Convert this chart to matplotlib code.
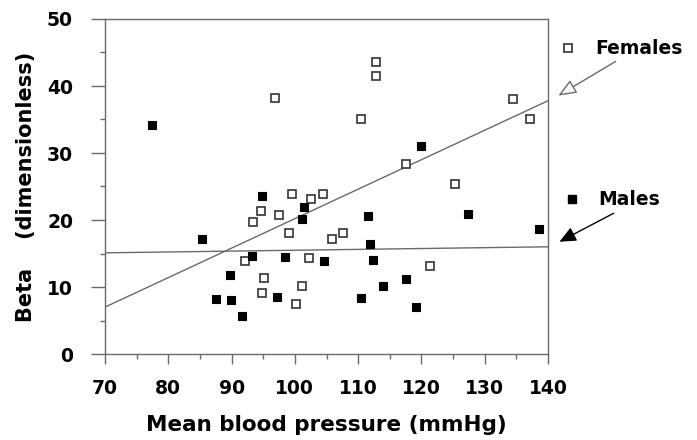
import matplotlib
matplotlib.use("Agg")
import matplotlib.pyplot as plt
from matplotlib.ticker import MultipleLocator
from matplotlib.patches import FancyArrowPatch
from matplotlib.lines import Line2D

# ---- data ----
female_bp = [96.9, 112.8, 112.8, 110.4, 134.5, 137.1, 117.6, 125.3, 99.5, 104.5,
             102.6, 94.6, 97.5, 93.4, 99.0, 105.8, 107.6, 92.1, 102.2, 95.1,
             101.2, 94.85, 100.2, 121.3]
female_beta = [38.2, 43.6, 41.5, 35.1, 38.1, 35.0, 28.4, 25.3, 23.9, 23.9,
               23.2, 21.3, 20.8, 19.7, 18.0, 17.2, 18.1, 13.9, 14.4, 11.4,
               10.1, 9.15, 7.5, 13.1]
male_bp = [77.4, 119.9, 85.4, 94.85, 101.5, 101.1, 93.2, 98.5, 104.6, 89.7,
           97.2, 87.6, 89.95, 91.7, 111.6, 127.3, 138.5, 111.9, 112.3, 117.55,
           114.0, 110.4, 119.1]
male_beta = [34.2, 31.0, 17.2, 23.6, 21.9, 20.1, 14.7, 14.5, 13.9, 11.8,
             8.55, 8.2, 8.0, 5.6, 20.6, 20.85, 18.6, 16.4, 14.1, 11.2,
             10.2, 8.4, 7.0]
female_line_x = [70, 140]
female_line_y = [7.0, 37.8]
male_line_x = [70, 140]
male_line_y = [15.1, 16.0]
x_ticks = [70, 80, 90, 100, 110, 120, 130, 140]
y_ticks = [0, 10, 20, 30, 40, 50]

FONT = "DejaVu Sans"
FS = 13.5
GRAY = "#6a6a6a"

fig = plt.figure(figsize=(6.97, 4.40), dpi=100)
ax = fig.add_axes([105/697, 1-354/440, (548-105)/697, (354-19)/440])

ax.plot(female_line_x, female_line_y, color=GRAY, lw=1.0, zorder=2)
ax.plot(male_line_x, male_line_y, color=GRAY, lw=1.0, zorder=2)

ax.plot(female_bp, female_beta, linestyle="none", marker="s", ms=5.5,
        mfc="white", mec="#333333", mew=1.2, zorder=3)
ax.plot(male_bp, male_beta, linestyle="none", marker="s", ms=6.0,
        mfc="black", mec="black", mew=0.8, zorder=3)

ax.set_xlim(70, 140)
ax.set_ylim(0, 50)
ax.set_xticks(x_ticks)
ax.set_yticks(y_ticks)
ax.xaxis.set_minor_locator(MultipleLocator(5))
ax.yaxis.set_minor_locator(MultipleLocator(5))

for s in ax.spines.values():
    s.set_color(GRAY)
    s.set_linewidth(1.0)

ax.tick_params(axis="y", which="major", direction="out", length=10, width=1.0,
               color=GRAY, pad=13)
ax.tick_params(axis="y", which="minor", direction="out", length=3.5, width=1.0,
               color=GRAY)
ax.tick_params(axis="x", which="major", direction="out", length=7, width=1.0,
               color=GRAY, pad=11)
ax.tick_params(axis="x", which="minor", direction="out", length=3.5, width=1.0,
               color=GRAY)

for lab in ax.get_xticklabels() + ax.get_yticklabels():
    lab.set_fontfamily(FONT)
    lab.set_fontweight("bold")
    lab.set_fontsize(FS)

ax.set_xlabel("Mean blood pressure (mmHg)", fontfamily=FONT, fontweight="bold",
              fontsize=15.5, labelpad=12)
ax.set_ylabel("Beta    (dimensionless)", fontfamily=FONT, fontweight="bold",
              fontsize=15, labelpad=8)

# legend-like annotations
lx1, ly1 = 568, 48
lx2, ly2 = 572, 199
fig.lines.append(Line2D([lx1/697], [1-ly1/440], transform=fig.transFigure,
                        marker="s", ms=5.5, mfc="white", mec="#333333",
                        mew=1.2, linestyle="none"))
fig.lines.append(Line2D([lx2/697], [1-ly2/440], transform=fig.transFigure,
                        marker="s", ms=6.0, mfc="black", mec="black",
                        linestyle="none"))
fig.text(595/697, 1-48/440, "Females", fontfamily=FONT, fontweight="bold",
         fontsize=FS, va="center", ha="left")
fig.text(598/697, 1-199/440, "Males", fontfamily=FONT, fontweight="bold",
         fontsize=FS, va="center", ha="left")

fig.patches.append(FancyArrowPatch(
    (618/697, 1-60/440), (556/697, 1-97/440), transform=fig.transFigure,
    arrowstyle="-|>,head_length=11,head_width=4.5", mutation_scale=1,
    facecolor="white", edgecolor=GRAY, lw=1.0))
fig.patches.append(FancyArrowPatch(
    (616/697, 1-212/440), (557/697, 1-243/440), transform=fig.transFigure,
    arrowstyle="-|>,head_length=10,head_width=4.5", mutation_scale=1,
    facecolor="black", edgecolor="black", lw=1.0))

fig.savefig("out.png", dpi=100)
